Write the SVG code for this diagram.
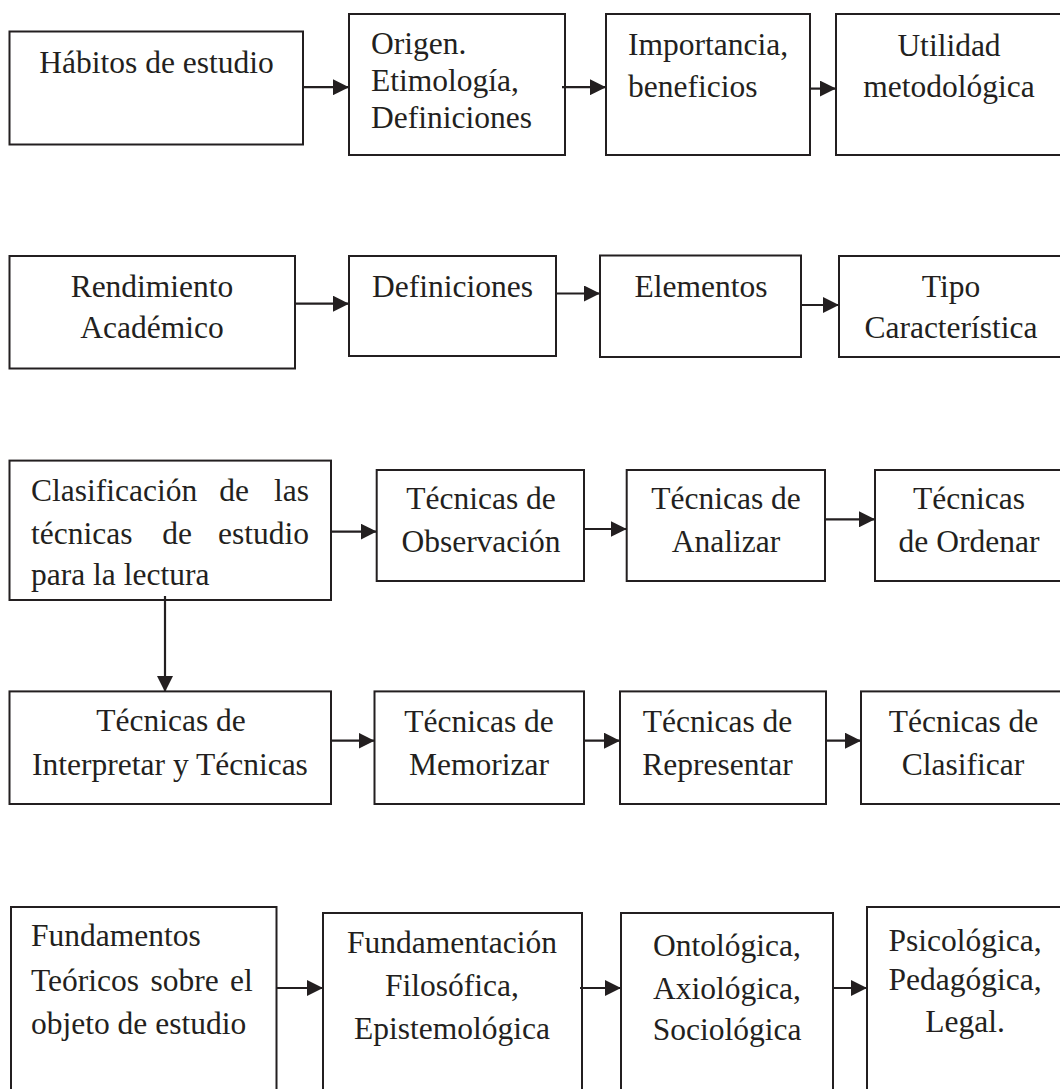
<svg xmlns="http://www.w3.org/2000/svg" width="1060" height="1089" viewBox="0 0 1060 1089">
<style>
.box{fill:#fff;stroke:#231f20;stroke-width:2}
.t{font-family:"Liberation Serif","Times New Roman",serif;font-size:31.5px;fill:#231f20}
.c{text-anchor:middle}
.ln{stroke:#231f20;stroke-width:2.2;fill:none;marker-end:url(#ah)}
</style>
<defs>
<marker id="ah" markerUnits="userSpaceOnUse" markerWidth="16" markerHeight="16" refX="16" refY="8" orient="auto">
<path d="M0,0 L16,8 L0,16 z" fill="#231f20"/>
</marker>
</defs>
<rect width="1060" height="1089" fill="#fff"/>

<g id="n-habitos"><rect class="box" x="9.5" y="31.5" width="293.5" height="113"/><text class="t c" x="156.5" y="72.7">Hábitos de estudio</text></g>
<g id="n-origen"><rect class="box" x="349" y="14" width="216" height="141"/><text class="t" x="371" y="53.5">Origen.</text><text class="t" x="371" y="90.5">Etimología,</text><text class="t" x="371" y="127.5">Definiciones</text></g>
<g id="n-importancia"><rect class="box" x="606" y="14" width="204" height="141"/><text class="t" x="628" y="55">Importancia,</text><text class="t" x="628" y="97">beneficios</text></g>
<g id="n-utilidad"><rect class="box" x="836" y="14" width="226" height="141"/><text class="t c" x="949" y="56">Utilidad</text><text class="t c" x="949" y="97">metodológica</text></g>

<g id="n-rendimiento"><rect class="box" x="9.5" y="256" width="285.5" height="112.5"/><text class="t c" x="152" y="296.6">Rendimiento</text><text class="t c" x="152" y="337.5">Académico</text></g>
<g id="n-definiciones"><rect class="box" x="349" y="256" width="207" height="100"/><text class="t c" x="452.5" y="296.6">Definiciones</text></g>
<g id="n-elementos"><rect class="box" x="600" y="255.5" width="201" height="101.5"/><text class="t c" x="701" y="296.6">Elementos</text></g>
<g id="n-tipo"><rect class="box" x="839" y="256" width="223" height="101"/><text class="t c" x="951" y="296.6">Tipo</text><text class="t c" x="951" y="338">Característica</text></g>

<g id="n-clasificacion"><rect class="box" x="9.5" y="460.6" width="321.5" height="139.4"/>
<text class="t" y="501"><tspan x="31">Clasificación</tspan><tspan x="234" text-anchor="middle">de</tspan><tspan x="309" text-anchor="end">las</tspan></text>
<text class="t" y="544"><tspan x="31">técnicas</tspan><tspan x="177" text-anchor="middle">de</tspan><tspan x="309" text-anchor="end">estudio</tspan></text>
<text class="t" x="31" y="584.6">para la lectura</text></g>
<g id="n-observacion"><rect class="box" x="376.7" y="470" width="207.3" height="111"/><text class="t c" x="481" y="509">Técnicas de</text><text class="t c" x="481" y="551.7">Observación</text></g>
<g id="n-analizar"><rect class="box" x="626.7" y="470" width="198.3" height="111"/><text class="t c" x="726" y="509">Técnicas de</text><text class="t c" x="726" y="551.7">Analizar</text></g>
<g id="n-ordenar"><rect class="box" x="875" y="470" width="187" height="111"/><text class="t c" x="969" y="509">Técnicas</text><text class="t c" x="969" y="552">de Ordenar</text></g>

<g id="n-interpretar"><rect class="box" x="9.5" y="691.4" width="321.5" height="112.6"/><text class="t c" x="171" y="731">Técnicas de</text><text class="t c" x="170" y="775">Interpretar y Técnicas</text></g>
<g id="n-memorizar"><rect class="box" x="374.5" y="691.4" width="209.5" height="112.6"/><text class="t c" x="479" y="731.5">Técnicas de</text><text class="t c" x="479" y="775">Memorizar</text></g>
<g id="n-representar"><rect class="box" x="620" y="691.4" width="206" height="112.6"/><text class="t c" x="717.5" y="732">Técnicas de</text><text class="t c" x="717.5" y="775">Representar</text></g>
<g id="n-clasificar"><rect class="box" x="861" y="691.4" width="201" height="112.6"/><text class="t c" x="963.5" y="732">Técnicas de</text><text class="t c" x="963" y="775">Clasificar</text></g>

<g id="n-fundamentos"><rect class="box" x="11" y="907" width="265.5" height="190"/><text class="t" x="31" y="945.8">Fundamentos</text><text class="t" x="31" y="990.7" word-spacing="3.5">Teóricos sobre el</text><text class="t" x="31" y="1033.6">objeto de estudio</text></g>
<g id="n-fundamentacion"><rect class="box" x="323" y="913" width="259" height="184"/><text class="t c" x="452" y="952.5">Fundamentación</text><text class="t c" x="452" y="995.5">Filosófica,</text><text class="t c" x="452" y="1038.7">Epistemológica</text></g>
<g id="n-ontologica"><rect class="box" x="621" y="913" width="212" height="184"/><text class="t c" x="727" y="956">Ontológica,</text><text class="t c" x="727" y="998.8">Axiológica,</text><text class="t c" x="727" y="1040.4">Sociológica</text></g>
<g id="n-psicologica"><rect class="box" x="867" y="907" width="195" height="190"/><text class="t c" x="965" y="951">Psicológica,</text><text class="t c" x="965" y="989.7">Pedagógica,</text><text class="t c" x="965" y="1032">Legal.</text></g>

<g id="connectors">
<line class="ln" x1="303" y1="87.2" x2="349" y2="87.2"/>
<line class="ln" x1="562" y1="87.2" x2="606" y2="87.2"/>
<line class="ln" x1="809" y1="88.6" x2="836" y2="88.6"/>

<line class="ln" x1="295" y1="303.7" x2="349" y2="303.7"/>
<line class="ln" x1="556" y1="293.5" x2="600" y2="293.5"/>
<line class="ln" x1="801" y1="305" x2="839" y2="305"/>

<line class="ln" x1="331" y1="531.6" x2="376.7" y2="531.6"/>
<line class="ln" x1="584" y1="529" x2="626.7" y2="529"/>
<line class="ln" x1="825" y1="519.3" x2="875" y2="519.3"/>

<line class="ln" x1="165" y1="596" x2="165" y2="692"/>

<line class="ln" x1="331" y1="740.7" x2="374.5" y2="740.7"/>
<line class="ln" x1="584" y1="740.7" x2="620" y2="740.7"/>
<line class="ln" x1="826" y1="740.7" x2="861" y2="740.7"/>

<line class="ln" x1="276.5" y1="988" x2="323" y2="988"/>
<line class="ln" x1="580" y1="988" x2="621" y2="988"/>
<line class="ln" x1="833" y1="988" x2="867" y2="988"/>
</g>
</svg>
